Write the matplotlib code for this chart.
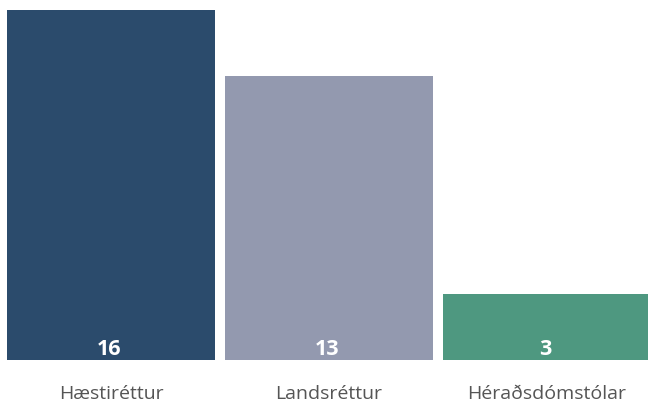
import matplotlib
matplotlib.use("Agg")
import matplotlib.pyplot as plt

categories = ["Hæstiréttur", "Landsréttur", "Héraðsdómstólar"]
values = [16, 13, 3]
colors = ["#2b4b6c", "#9399af", "#4e9880"]

W, H = 648, 406
fig = plt.figure(figsize=(W / 100, H / 100), dpi=100)
ax = fig.add_axes([7 / W, 1 - 361 / H, 641 / W, 361 / H])

slot = 218.0
w = 208 / slot
x = list(range(len(categories)))
ax.bar(x, values, width=w, color=colors)
ax.set_xlim(-w / 2, 2 - w / 2 + 205 / slot)
ax.set_ylim(0, 361 / 21.875)

for xi, v in zip(x, values):
    ax.text(xi - 0.01, 0.27, str(v), ha="center", va="baseline", color="white",
            fontsize=15.5, fontweight="bold", family="Open Sans")

ax.set_xticks(x)
ax.set_xticklabels(categories, fontsize=14, color="#555555", family="Open Sans")
ax.tick_params(axis="x", length=0, pad=17.5)
ax.set_yticks([])
for s in ax.spines.values():
    s.set_visible(False)

fig.savefig("out.png", dpi=100)
